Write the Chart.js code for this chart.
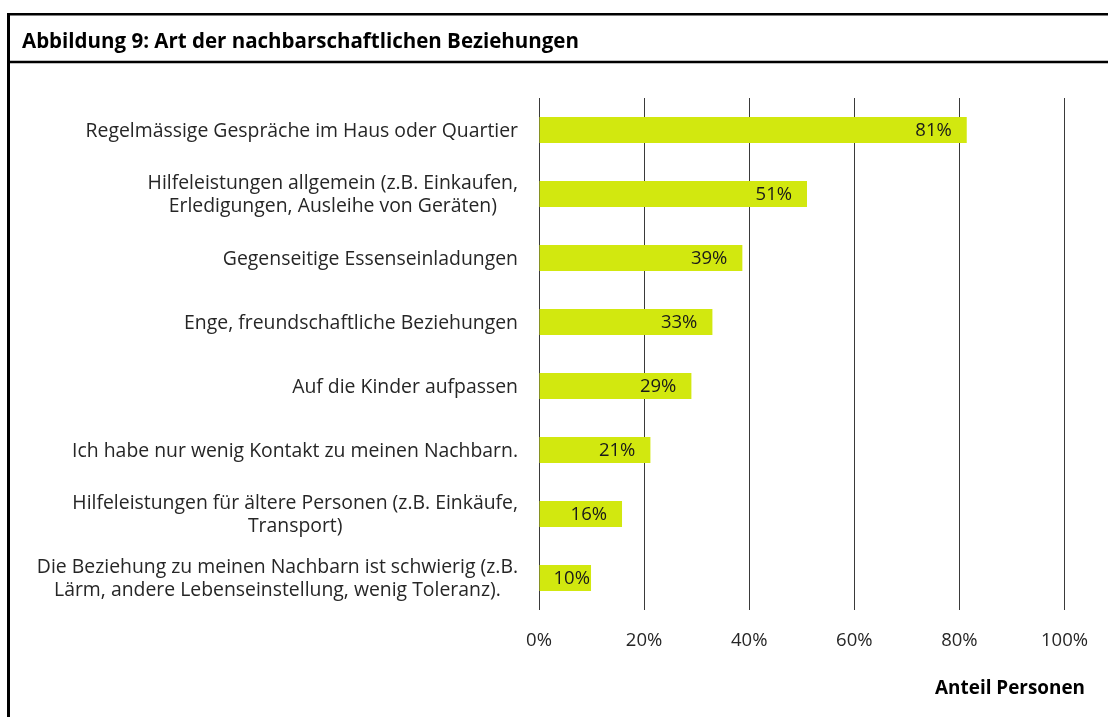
<!DOCTYPE html>
<html>
<head>
<meta charset="utf-8">
<script src="https://cdn.jsdelivr.net/npm/chart.js@4"></script>
<style>
  html, body { margin: 0; padding: 0; background: #fff; }
  #wrap { width: 1108px; height: 717px; position: relative; }
</style>
</head>
<body>
<div id="wrap"><canvas id="c"></canvas></div>
<script>
const title = "Abbildung 9: Art der nachbarschaftlichen Beziehungen";
const axisTitle = "Anteil Personen";
const categories = [
  ["Regelmässige Gespräche im Haus oder Quartier"],
  ["Hilfeleistungen allgemein (z.B. Einkaufen,", "Erledigungen, Ausleihe von Geräten)"],
  ["Gegenseitige Essenseinladungen"],
  ["Enge, freundschaftliche Beziehungen"],
  ["Auf die Kinder aufpassen"],
  ["Ich habe nur wenig Kontakt zu meinen Nachbarn."],
  ["Hilfeleistungen für ältere Personen (z.B. Einkäufe,", "Transport)"],
  ["Die Beziehung zu meinen Nachbarn ist schwierig (z.B.", "Lärm, andere Lebenseinstellung, wenig Toleranz)."]
];
const values = [81.4, 51, 38.7, 33, 29, 21.2, 15.8, 9.9];
const tickValues = [0, 20, 40, 60, 80, 100];

const FONT = "'Open Sans', 'Noto Sans', sans-serif";
const TEXT = "#262626";
const BAR = "#d2e80f";

// pick a font size so that a reference string spans a given width
const mctx = document.createElement('canvas').getContext('2d');
function fitSize(text, target, weight) {
  mctx.font = (weight || '') + " 100px " + FONT;
  return Math.round(100 * target / mctx.measureText(text).width * 10) / 10;
}
const labelSize = fitSize(categories[0][0], 433);
const titleSize = fitSize(title, 556, 'bold');
const tickSize = fitSize("100%", 47);
const axisTitleSize = fitSize(axisTitle, 150, 'bold');

const framePlugin = {
  id: 'frame',
  beforeDraw(chart) {
    const ctx = chart.ctx;
    ctx.save();
    ctx.fillStyle = '#fff';
    ctx.fillRect(0, 0, chart.width, chart.height);
    ctx.strokeStyle = '#000';
    ctx.lineWidth = 3;
    ctx.beginPath(); ctx.moveTo(8.5, 13); ctx.lineTo(8.5, chart.height); ctx.stroke();
    ctx.lineWidth = 2.5;
    ctx.beginPath(); ctx.moveTo(7, 14.25); ctx.lineTo(chart.width, 14.25); ctx.stroke();
    ctx.beginPath(); ctx.moveTo(7, 62); ctx.lineTo(chart.width, 62); ctx.stroke();
    ctx.fillStyle = '#000';
    ctx.font = "bold " + titleSize + "px " + FONT;
    ctx.textBaseline = 'middle';
    ctx.textAlign = 'left';
    ctx.fillText(title, 22, 42);
    ctx.restore();
  },
  afterDraw(chart) {
    const ctx = chart.ctx;
    const ys = chart.scales.y;
    ctx.save();
    ctx.fillStyle = TEXT;
    ctx.font = labelSize + "px " + FONT;
    ctx.textBaseline = 'middle';
    ctx.textAlign = 'center';
    const rightEdge = chart.chartArea.left - 21;
    categories.forEach((lines, i) => {
      const yc = ys.getPixelForValue(i);
      const w = Math.max(...lines.map(l => ctx.measureText(l).width));
      const cx = rightEdge - w / 2;
      lines.forEach((l, k) => {
        ctx.fillText(l, cx, yc + (k - (lines.length - 1) / 2) * 23 + 1);
      });
    });
    // data labels
    const meta = chart.getDatasetMeta(0);
    ctx.font = tickSize + "px " + FONT;
    ctx.textAlign = 'right';
    ctx.fillStyle = '#1a1a1a';
    meta.data.forEach((bar, i) => {
      const txt = Math.round(values[i]) + '%';
      const w = ctx.measureText(txt).width;
      const x = Math.max(bar.x - 15, bar.base + 14 + w);
      ctx.fillText(txt, x, bar.y + 1);
    });
    // axis title
    ctx.font = "bold " + axisTitleSize + "px " + FONT;
    ctx.fillStyle = '#000';
    ctx.textAlign = 'right';
    ctx.fillText(axisTitle, 1085, 689);
    ctx.restore();
  }
};

new Chart(document.getElementById('c'), {
  type: 'bar',
  data: {
    labels: categories.map(c => c.join(' ')),
    datasets: [{
      data: values,
      backgroundColor: BAR,
      borderWidth: 0,
      categoryPercentage: 1,
      barPercentage: 0.41
    }]
  },
  options: {
    indexAxis: 'y',
    responsive: true,
    maintainAspectRatio: false,
    animation: false,
    layout: { padding: { left: 539, right: 41, top: 98, bottom: 0 } },
    plugins: { legend: { display: false }, tooltip: { enabled: false } },
    scales: {
      y: { display: false },
      x: {
        min: 0, max: 100,
        afterBuildTicks(scale) { scale.ticks = tickValues.map(v => ({ value: v })); },
        afterFit(scale) { scale.height = 107; },
        border: { display: false },
        grid: { color: '#3a3a3a', lineWidth: 1, drawTicks: false },
        ticks: {
          padding: 20,
          color: TEXT,
          font: { family: FONT, size: tickSize },
          callback: v => v + '%'
        }
      }
    }
  },
  plugins: [framePlugin]
});
</script>
</body>
</html>
